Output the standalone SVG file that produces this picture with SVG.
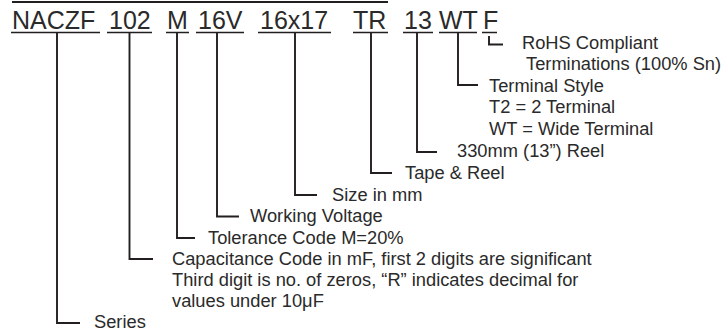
<svg xmlns="http://www.w3.org/2000/svg" width="725" height="331" viewBox="0 0 725 331">
<style>
.code{font-family:"Liberation Sans",Arial,sans-serif;font-size:25px;fill:#2a2a2a}
.lbl{font-family:"Liberation Sans",Arial,sans-serif;font-size:18.3px;fill:#2a2a2a}
.ul{stroke:#231f20;stroke-width:1.5;fill:none}
.con{stroke:#231f20;stroke-width:1.9;fill:none}
</style>
<rect width="725" height="331" fill="#fff"/>
<line x1="12" y1="2" x2="388" y2="2" stroke="#231f20" stroke-width="2"/>
<g id="code-series"><text class="code" x="12" y="29">NACZF</text><line class="ul" x1="11" y1="32.5" x2="100" y2="32.5"/></g>
<g id="code-cap"><text class="code" x="109" y="29">102</text><line class="ul" x1="107" y1="32.5" x2="152" y2="32.5"/></g>
<g id="code-tol"><text class="code" x="167" y="29">M</text><line class="ul" x1="166" y1="32.5" x2="189" y2="32.5"/></g>
<g id="code-volt"><text class="code" x="198" y="29">16V</text><line class="ul" x1="196" y1="32.5" x2="244" y2="32.5"/></g>
<g id="code-size"><text class="code" x="260" y="29">16x17</text><line class="ul" x1="258" y1="32.5" x2="331" y2="32.5"/></g>
<g id="code-tr"><text class="code" x="353" y="29">TR</text><line class="ul" x1="353" y1="32.5" x2="388" y2="32.5"/></g>
<g id="code-reel"><text class="code" x="404" y="29">13</text><line class="ul" x1="403" y1="32.5" x2="433" y2="32.5"/></g>
<g id="code-term"><text class="code" x="439" y="29">WT</text><line class="ul" x1="439" y1="32.5" x2="477" y2="32.5"/></g>
<g id="code-rohs"><text class="code" x="483" y="29">F</text><line class="ul" x1="482" y1="32.5" x2="497" y2="32.5"/></g>

<g id="connectors">
<polyline class="con" points="57,33 57,323 80,323"/>
<polyline class="con" points="129.5,33 129.5,259 153,259"/>
<polyline class="con" points="177,33 177,238 195,238"/>
<polyline class="con" points="217,33 217,216.5 239,216.5"/>
<polyline class="con" points="295,33 295,195 317,195"/>
<polyline class="con" points="371,33 371,173 392,173"/>
<polyline class="con" points="417,33 417,152 437,152"/>
<polyline class="con" points="458,33 458,85 478,85"/>
<polyline class="con" points="489,36 489,44.5 503,44.5"/>
</g>

<g id="lbl-rohs"><text class="lbl" x="522" y="49">RoHS Compliant</text><text class="lbl" x="526" y="70">Terminations (100% Sn)</text></g>
<g id="lbl-term"><text class="lbl" x="489" y="91.5">Terminal Style</text><text class="lbl" x="489" y="113">T2 = 2 Terminal</text><text class="lbl" x="489" y="134.5">WT = Wide Terminal</text></g>
<g id="lbl-reel"><text class="lbl" x="457" y="157">330mm (13”) Reel</text></g>
<g id="lbl-tr"><text class="lbl" x="405" y="178.5">Tape &amp; Reel</text></g>
<g id="lbl-size"><text class="lbl" x="332" y="200.5">Size in mm</text></g>
<g id="lbl-volt"><text class="lbl" x="250" y="222">Working Voltage</text></g>
<g id="lbl-tol"><text class="lbl" x="208" y="243.5">Tolerance Code M=20%</text></g>
<g id="lbl-cap"><text class="lbl" x="172" y="265">Capacitance Code in mF, first 2 digits are significant</text><text class="lbl" x="172" y="286">Third digit is no. of zeros, “R” indicates decimal for</text><text class="lbl" x="172" y="307">values under 10μF</text></g>
<g id="lbl-series"><text class="lbl" x="94" y="328">Series</text></g>
</svg>
